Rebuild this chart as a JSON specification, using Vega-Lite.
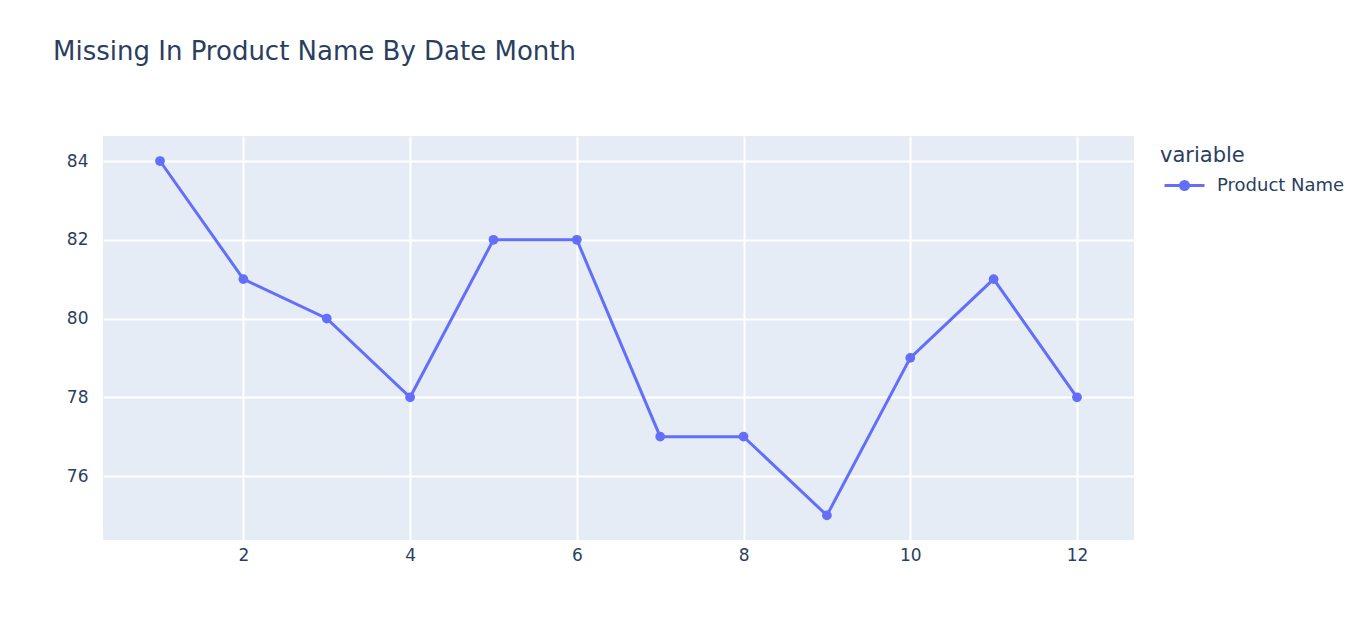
{
  "$schema": "https://vega.github.io/schema/vega-lite/v6.json",
  "width": 1031,
  "height": 404,
  "autosize": {"type": "none"},
  "padding": {"left": 103, "top": 136, "right": 213, "bottom": 98},
  "background": "white",
  "title": {
    "text": "Missing In Product Name By Date Month",
    "anchor": "start",
    "frame": "group",
    "dx": -50,
    "dy": -67,
    "font": "DejaVu Sans",
    "fontSize": 26,
    "fontWeight": "normal",
    "color": "#2a3f5f"
  },
  "config": {
    "view": {"fill": "#E5ECF6", "stroke": null},
    "font": "DejaVu Sans",
    "axis": {
      "domain": false,
      "ticks": false,
      "tickSize": 0,
      "gridColor": "white",
      "gridWidth": 2,
      "labelFont": "DejaVu Sans",
      "labelFontSize": 17,
      "labelColor": "#2a3f5f",
      "title": null
    }
  },
  "data": {
    "values": [
      {"month": 1, "missing": 84, "variable": "Product Name"},
      {"month": 2, "missing": 81, "variable": "Product Name"},
      {"month": 3, "missing": 80, "variable": "Product Name"},
      {"month": 4, "missing": 78, "variable": "Product Name"},
      {"month": 5, "missing": 82, "variable": "Product Name"},
      {"month": 6, "missing": 82, "variable": "Product Name"},
      {"month": 7, "missing": 77, "variable": "Product Name"},
      {"month": 8, "missing": 77, "variable": "Product Name"},
      {"month": 9, "missing": 75, "variable": "Product Name"},
      {"month": 10, "missing": 79, "variable": "Product Name"},
      {"month": 11, "missing": 81, "variable": "Product Name"},
      {"month": 12, "missing": 78, "variable": "Product Name"}
    ]
  },
  "encoding": {
    "x": {
      "field": "month",
      "type": "quantitative",
      "scale": {"domain": [0.316, 12.684], "nice": false, "zero": false},
      "axis": {"values": [2, 4, 6, 8, 10, 12], "labelPadding": 7, "title": null}
    },
    "y": {
      "field": "missing",
      "type": "quantitative",
      "scale": {"domain": [74.375, 84.635], "nice": false, "zero": false},
      "axis": {"values": [76, 78, 80, 82, 84], "labelPadding": 15, "title": null}
    },
    "color": {
      "field": "variable",
      "type": "nominal",
      "scale": {"range": ["#636efa"]},
      "legend": {
        "orient": "none",
        "legendX": 1057,
        "legendY": 9,
        "title": "variable",
        "titleFont": "DejaVu Sans",
        "titleFontSize": 21,
        "titleFontWeight": "normal",
        "titleColor": "#2a3f5f",
        "titlePadding": -2,
        "labelFont": "DejaVu Sans",
        "labelFontSize": 18,
        "labelColor": "#2a3f5f",
        "labelOffset": 11,
        "symbolOffset": 3,
        "symbolType": "M-1,0L1,0M0.2,0A0.2,0.2 0 1,1 -0.2,0A0.2,0.2 0 1,1 0.2,0",
        "symbolSize": 1600,
        "symbolStrokeWidth": 3,
        "symbolFillColor": "#636efa",
        "symbolStrokeColor": "#636efa"
      }
    }
  },
  "layer": [
    {"mark": {"type": "line", "strokeWidth": 3}},
    {"mark": {"type": "point", "filled": true, "opacity": 1, "size": 95}}
  ]
}
